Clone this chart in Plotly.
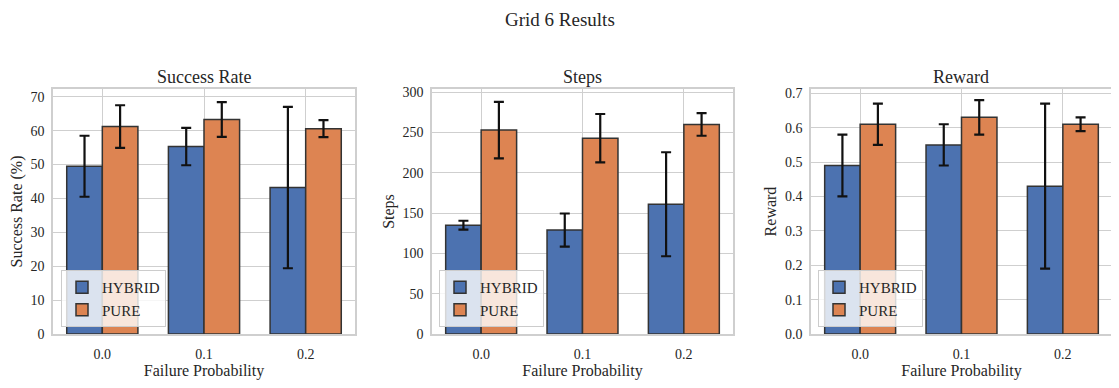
import plotly.graph_objects as go

# Data
fail_probs = ["0.0", "0.1", "0.2"]
series_names = ["HYBRID", "PURE"]

success_hybrid = [49.5, 55.3, 43.2]
success_hybrid_err = [9.0, 5.5, 23.8]
success_pure = [61.2, 63.3, 60.6]
success_pure_err = [6.3, 5.1, 2.5]

steps_hybrid = [135, 129, 161]
steps_hybrid_err = [5.5, 20.5, 64.5]
steps_pure = [253, 243, 260]
steps_pure_err = [35, 30, 14]

reward_hybrid = [0.49, 0.55, 0.43]
reward_hybrid_err = [0.09, 0.06, 0.24]
reward_pure = [0.61, 0.63, 0.61]
reward_pure_err = [0.06, 0.05, 0.02]

colors = ["#4C72B0", "#DD8452"]
# the page body adds an 8px margin, so lay out in page pixels minus that offset
OFF = 8
W, H = 1119 - OFF, 388 - OFF
FONT = "Liberation Serif"
TXT = "#262626"
GRID = "#cfcfcf"

panels = [
    dict(title="Success Rate", ylabel="Success Rate (%)", yrange=[0, 72.3],
         dtick=10, fmt="d",
         data=[(success_hybrid, success_hybrid_err), (success_pure, success_pure_err)],
         px=(53, 355), lx=61),
    dict(title="Steps", ylabel="Steps", yrange=[0, 304], dtick=50, fmt="d",
         data=[(steps_hybrid, steps_hybrid_err), (steps_pure, steps_pure_err)],
         px=(432, 733), lx=439),
    dict(title="Reward", ylabel="Reward", yrange=[0, 0.7125], dtick=0.1, fmt=".1f",
         data=[(reward_hybrid, reward_hybrid_err), (reward_pure, reward_pure_err)],
         px=(811, 1112), lx=818),
]

top_px, bot_px = 89 - OFF, 334 - OFF
ydom = [1 - bot_px / H, 1 - top_px / H]
bar_w = 0.35
xpos = list(range(len(fail_probs)))

fig = go.Figure()
annotations = []
layout = {}
for i, p in enumerate(panels):
    n = i + 1
    xa = "x" if n == 1 else f"x{n}"
    ya = "y" if n == 1 else f"y{n}"
    lg = "legend" if n == 1 else f"legend{n}"
    for j, (vals, errs) in enumerate(p["data"]):
        fig.add_trace(go.Bar(
            x=xpos, y=vals, name=series_names[j],
            width=bar_w, offset=-bar_w if j == 0 else 0,
            marker=dict(color=colors[j], line=dict(color="#333333", width=1.5)),
            error_y=dict(type="data", array=errs, color="#111111",
                         thickness=2.2, width=5),
            xaxis=xa, yaxis=ya, legend=lg,
        ))
    xdom = [(p["px"][0] - OFF) / W, (p["px"][1] - OFF) / W]
    axis_font = dict(family=FONT, size=14, color=TXT)
    title_font = dict(family=FONT, size=16, color=TXT)
    layout[f"xaxis{'' if n == 1 else n}"] = dict(
        domain=xdom, anchor=ya, range=[-0.485, 2.485], automargin=False,
        tickvals=xpos, ticktext=fail_probs, tickfont=axis_font,
        showgrid=True, gridcolor=GRID, gridwidth=1.2,
        showline=True, linecolor=GRID, linewidth=1.5, mirror=True,
        ticks="outside", ticklen=6, tickcolor="rgba(0,0,0,0)", zeroline=False,
        title=dict(text="Failure Probability", font=title_font, standoff=2),
    )
    layout[f"yaxis{'' if n == 1 else n}"] = dict(
        domain=ydom, anchor=xa, range=p["yrange"], dtick=p["dtick"], tickformat=p["fmt"],
        automargin=False, tickfont=axis_font, showgrid=True, gridcolor=GRID, gridwidth=1.2,
        showline=True, linecolor=GRID, linewidth=1.5, mirror=True,
        ticks="outside", ticklen=4, tickcolor="rgba(0,0,0,0)", zeroline=False,
        title=dict(text=p["ylabel"], font=title_font, standoff=4),
    )
    layout[lg] = dict(
        x=(p["lx"] - OFF) / W, y=1 - (327 - OFF) / H, xanchor="left", yanchor="bottom",
        bgcolor="rgba(255,255,255,0.8)", bordercolor="#cccccc", borderwidth=1,
        font=dict(family=FONT, size=15, color=TXT),
        tracegroupgap=0,
    )
    annotations.append(dict(
        text=p["title"], x=(xdom[0] + xdom[1]) / 2, y=ydom[1], xref="paper", yref="paper",
        xanchor="center", yanchor="bottom", yshift=0, showarrow=False,
        font=dict(family=FONT, size=18, color=TXT),
    ))

# figure title as a top-anchored annotation so its box stays inside the figure
annotations.append(dict(
    text="Grid 6 Results", x=(560 - OFF) / W, y=1.0, xref="paper", yref="paper",
    xanchor="center", yanchor="top", showarrow=False, borderpad=0,
    font=dict(family=FONT, size=19, color=TXT),
))

fig.update_layout(
    width=W, height=H,
    margin=dict(l=0, r=0, t=0, b=0),
    paper_bgcolor="white", plot_bgcolor="white",
    annotations=annotations,
    showlegend=True,
    **layout,
)

fig.write_html("out.html")
